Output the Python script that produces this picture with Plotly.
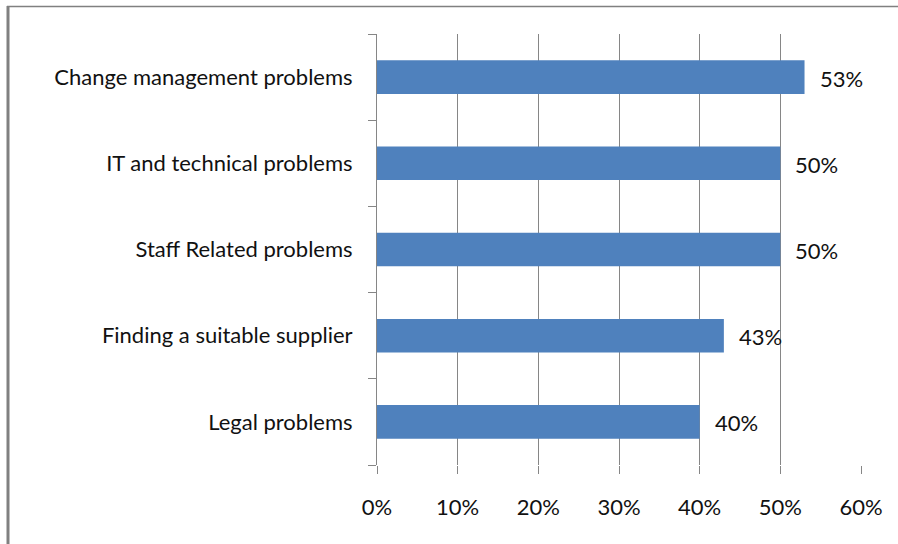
import plotly.graph_objects as go

# Survey results: share of respondents reporting each problem
categories = [
    "Legal problems",
    "Finding a suitable supplier",
    "Staff Related problems",
    "IT and technical problems",
    "Change management problems",
]
values = [0.40, 0.43, 0.50, 0.50, 0.53]
labels = ["40%", "43%", "50%", "50%", "53%"]
x_ticks = [0, 0.1, 0.2, 0.3, 0.4, 0.5, 0.6]
x_tick_text = ["0%", "10%", "20%", "30%", "40%", "50%", "60%"]

W, H = 898, 544
L, R, T, B = 377, 37, 34, 79
pw, ph = W - L - R, H - T - B

font = dict(family="Lato, Carlito, sans-serif", size=22, color="#111111")

fig = go.Figure(
    go.Bar(
        x=values,
        y=categories,
        orientation="h",
        marker=dict(color="#4F81BD", line=dict(width=0)),
        width=0.39,
        hoverinfo="skip",
    )
)

# Value labels placed just past the end of each bar
for cat, val, lab in zip(categories, values, labels):
    fig.add_annotation(
        x=val, y=cat, text=lab, showarrow=False,
        xanchor="left", xshift=13, yshift=-1, font=font,
    )

# Outer frame: thick left edge and thin top edge
def px_x(p):
    return (p - L) / pw

def px_y(p):
    return (H - B - p) / ph

fig.add_shape(type="line", xref="paper", yref="paper",
              x0=px_x(8), x1=px_x(8), y0=px_y(6), y1=px_y(H + 5),
              line=dict(color="#808080", width=3))
fig.add_shape(type="line", xref="paper", yref="paper",
              x0=px_x(7), x1=px_x(W + 5), y0=px_y(6.5), y1=px_y(6.5),
              line=dict(color="#808080", width=1.5))

fig.update_layout(
    width=W, height=H,
    margin=dict(l=L, r=R, t=T, b=B),
    paper_bgcolor="white",
    plot_bgcolor="white",
    showlegend=False,
    font=font,
    xaxis=dict(
        range=[0, 0.6],
        tickvals=x_ticks,
        ticktext=x_tick_text,
        showgrid=True,
        gridcolor="#868686",
        gridwidth=1,
        zeroline=False,
        showline=False,
        ticks="outside",
        ticklen=8,
        tickcolor="#868686",
        tickfont=font,
        ticklabelstandoff=15,
        fixedrange=True,
    ),
    yaxis=dict(
        type="category",
        categoryorder="array",
        categoryarray=categories,
        showgrid=False,
        zeroline=False,
        showline=True,
        linecolor="#868686",
        linewidth=1,
        ticks="outside",
        tickson="boundaries",
        ticklen=8,
        tickcolor="#868686",
        tickfont=font,
        ticklabelstandoff=19,
        fixedrange=True,
    ),
)

fig.write_html("out.html")
